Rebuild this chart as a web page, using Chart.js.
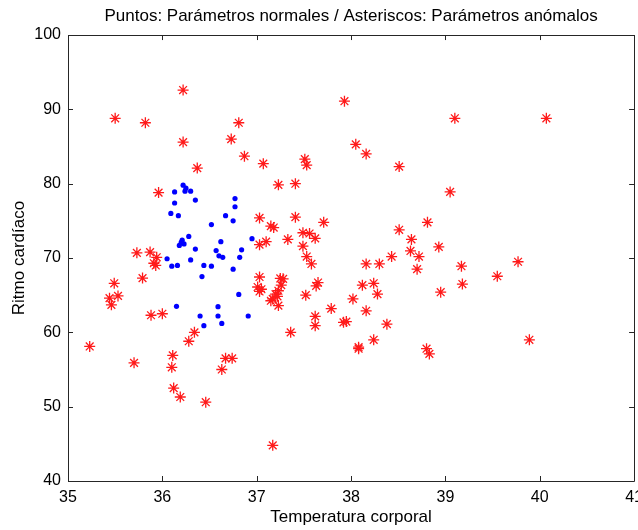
<!DOCTYPE html>
<html lang="es">
<head>
<meta charset="UTF-8">
<title>Ritmo cardíaco vs temperatura</title>
<script src="https://cdn.jsdelivr.net/npm/chart.js"></script>
<style>
    html, body { margin: 0; padding: 0; background: #fff; overflow: hidden; }
    #wrap { width: 638px; height: 530px; overflow: hidden; }
</style>
</head>
<body>
<div id="wrap"><canvas id="scatter" width="650" height="530"></canvas></div>
<script>
// Parámetros normales (puntos azules)
const normalTemp = [36.22, 36.25, 36.30, 36.24, 36.13, 36.35, 36.13, 36.09, 36.17, 36.77, 36.77, 36.67, 36.75, 36.52, 36.95,
    36.28, 36.21, 36.20, 36.18, 36.23, 36.62, 36.35, 36.57, 36.84, 36.60, 36.64, 36.82, 36.05, 36.30, 36.10,
    36.16, 36.44, 36.52, 36.75, 36.42, 36.81, 36.15, 36.59, 36.40, 36.59, 36.91, 36.63, 36.44];
const normalRate = [79.8, 79.4, 79.0, 79.0, 78.9, 77.8, 77.4, 76.0, 75.7, 78.0, 76.9, 75.7, 75.0, 74.5, 72.6,
    72.9, 72.4, 72.1, 71.7, 71.9, 72.2, 71.2, 71.0, 71.1, 70.3, 70.1, 70.1, 69.9, 69.75, 68.9,
    69.0, 69.0, 68.9, 68.5, 67.5, 65.1, 63.5, 63.45, 62.2, 62.2, 62.2, 61.2, 60.9];

// Parámetros anómalos (asteriscos rojos)
const anomalTemp = [36.22, 35.50, 35.82, 36.81, 36.22, 36.73, 36.87, 36.37, 37.93, 38.05, 38.16, 38.51, 37.07, 37.51, 37.53,
    37.23, 37.41, 39.10, 40.07, 39.05, 35.96, 35.73, 35.87, 35.94, 35.91, 35.93, 35.79, 35.49, 35.53, 35.44,
    35.46, 35.88, 36.00, 36.34, 36.28, 37.03, 37.03, 37.10, 37.03, 37.01, 37.05, 37.03, 37.41, 37.15, 37.18,
    37.71, 37.49, 37.56, 37.62, 37.33, 37.49, 37.53, 37.58, 38.51, 38.81, 38.93, 38.64, 38.63, 38.72, 38.43,
    38.16, 38.30, 38.70, 38.95, 37.25, 37.28, 37.26, 37.23, 37.20, 37.17, 37.22, 37.23, 37.15, 37.65, 37.63,
    37.52, 38.12, 38.24, 38.28, 38.02, 37.79, 38.16, 37.62, 37.62, 37.92, 37.95, 38.38, 37.36, 38.24, 39.17,
    39.77, 39.55, 39.18, 39.89, 35.23, 35.70, 36.11, 36.10, 36.12, 36.19, 36.46, 36.67, 36.74, 36.63, 38.08,
    38.08, 38.80, 38.83, 37.17];
const anomalRate = [92.6, 88.8, 88.2, 88.2, 85.6, 86.0, 83.7, 82.1, 91.1, 85.3, 84.0, 82.3, 82.7, 83.3, 82.5,
    79.85, 80.0, 88.8, 88.8, 78.9, 78.8, 70.7, 70.8, 70.1, 69.3, 69.0, 67.3, 66.6, 64.9, 64.6,
    63.7, 62.3, 62.5, 60.0, 58.8, 75.4, 71.8, 72.2, 67.45, 66.1, 65.8, 65.5, 75.5, 74.3, 74.1,
    74.8, 73.4, 73.3, 72.65, 72.5, 71.6, 70.2, 69.2, 73.8, 74.8, 71.5, 72.5, 70.95, 70.2, 70.2,
    69.2, 69.2, 68.5, 65.4, 67.25, 67.2, 66.35, 65.6, 65.15, 64.5, 64.85, 63.6, 64.25, 66.7, 66.25,
    65.0, 66.35, 66.6, 65.15, 64.5, 63.2, 62.9, 62.15, 60.9, 61.35, 61.45, 61.1, 60.0, 59.0, 68.9,
    69.5, 67.55, 66.5, 59.0, 58.1, 55.9, 56.9, 55.3, 52.5, 51.3, 50.6, 56.5, 56.5, 55.0, 58.0,
    57.8, 57.8, 57.1, 44.8];

const xMin = 35, xMax = 41, xStep = 1;
const yMin = 40, yMax = 100, yStep = 10;

const FONT = "'Liberation Sans', Arial, sans-serif";

// caja cerrada con marcas hacia dentro, como en MATLAB
const matlabAxes = {
    id: 'matlabAxes',
    afterDraw(chart) {
        const { ctx, chartArea: a, scales } = chart;
        const len = 5;
        ctx.save();
        ctx.strokeStyle = '#262626';
        ctx.lineWidth = 1;
        ctx.beginPath();
        ctx.rect(Math.round(a.left) + 0.5, Math.round(a.top) + 0.5,
            Math.round(a.right - a.left), Math.round(a.bottom - a.top));
        scales.x.ticks.forEach(t => {
            const px = Math.round(scales.x.getPixelForValue(t.value)) + 0.5;
            ctx.moveTo(px, a.bottom); ctx.lineTo(px, a.bottom - len);
            ctx.moveTo(px, a.top); ctx.lineTo(px, a.top + len);
        });
        scales.y.ticks.forEach(t => {
            const py = Math.round(scales.y.getPixelForValue(t.value)) + 0.5;
            ctx.moveTo(a.left, py); ctx.lineTo(a.left + len, py);
            ctx.moveTo(a.right, py); ctx.lineTo(a.right - len, py);
        });
        ctx.stroke();
        ctx.restore();
    }
};

const normalPts = normalTemp.map((t, i) => ({ x: t, y: normalRate[i] }));
const anomalPts = anomalTemp.map((t, i) => ({ x: t, y: anomalRate[i] }));

new Chart(document.getElementById('scatter'), {
    type: 'scatter',
    data: {
        datasets: [
            {
                label: 'Parámetros normales',
                data: normalPts,
                pointStyle: 'circle',
                pointRadius: 2.6,
                pointBorderWidth: 0,
                backgroundColor: '#0000ff',
                borderColor: '#0000ff'
            },
            {
                label: 'Parámetros anómalos',
                data: anomalPts,
                pointStyle: 'star',
                pointRadius: 5.5,
                pointBorderWidth: 1.3,
                backgroundColor: '#ff0000',
                borderColor: '#ff1a1a'
            }
        ]
    },
    options: {
        responsive: false,
        animation: false,
        devicePixelRatio: 1,
        layout: { padding: 0 },
        plugins: {
            legend: { display: false },
            tooltip: { enabled: false },
            title: {
                display: true,
                fullSize: false,
                text: 'Puntos: Parámetros normales / Asteriscos: Parámetros anómalos',
                color: '#000',
                font: { family: FONT, size: 17, weight: 'normal', lineHeight: 1.15 },
                padding: { top: 7, bottom: 8.5 }
            }
        },
        scales: {
            x: {
                type: 'linear',
                min: xMin, max: xMax,
                afterFit: s => { s.height = 49; },
                grid: { display: false, drawTicks: false },
                border: { display: false },
                ticks: {
                    stepSize: xStep, color: '#000', padding: 7, maxRotation: 0,
                    font: { family: FONT, size: 16 }
                },
                title: {
                    display: true, text: 'Temperatura corporal', color: '#000',
                    font: { family: FONT, size: 17 }, padding: { top: 0, bottom: 2 }
                }
            },
            y: {
                type: 'linear',
                min: yMin, max: yMax,
                afterFit: s => { s.width = 68; },
                grid: { display: false, drawTicks: false },
                border: { display: false },
                ticks: {
                    stepSize: yStep, color: '#000', padding: 7,
                    font: { family: FONT, size: 16 }
                },
                title: {
                    display: true, text: 'Ritmo cardíaco', color: '#000',
                    font: { family: FONT, size: 17 }, padding: { top: 9, bottom: 0 }
                }
            }
        }
    },
    plugins: [matlabAxes]
});
</script>
</body>
</html>
